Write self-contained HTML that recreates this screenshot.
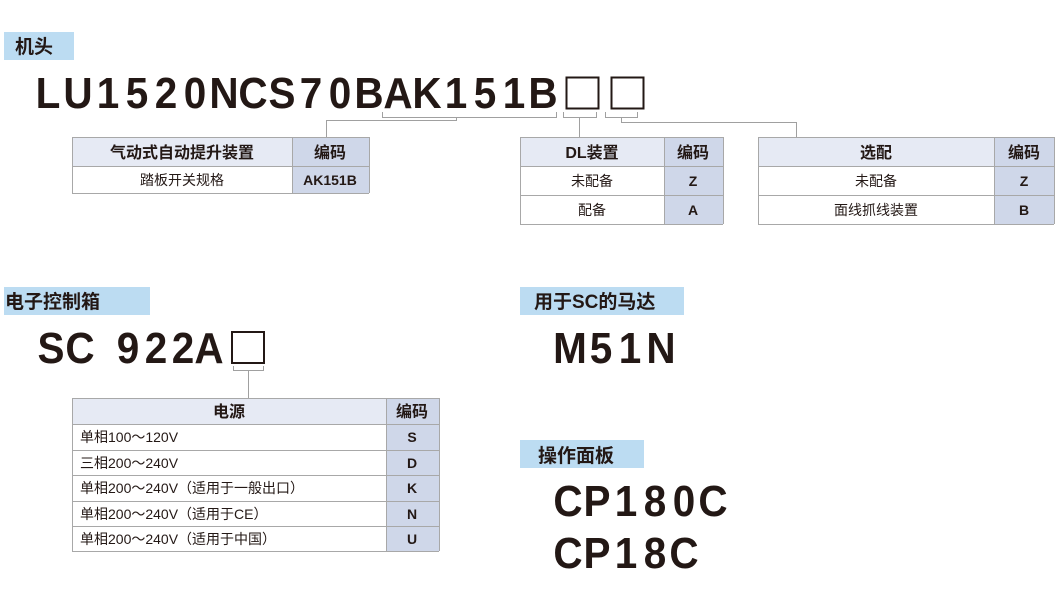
<!DOCTYPE html>
<html><head><meta charset="utf-8"><style>
html,body{margin:0;padding:0;background:#fff}
svg{display:block}
.big{font-family:"Liberation Sans",sans-serif;font-weight:bold;font-size:44px;fill:#231815}
.lab{font-family:"Liberation Sans","Noto Sans CJK SC",sans-serif;font-weight:bold;font-size:19px;fill:#231815}
.h{font-family:"Liberation Sans","Noto Sans CJK SC",sans-serif;font-weight:bold;font-size:16px;fill:#231815}
.t{font-family:"Liberation Sans","Noto Sans CJK SC",sans-serif;font-size:14px;fill:#231815}
.c{font-family:"Liberation Sans","Noto Sans CJK SC",sans-serif;font-weight:bold;font-size:14px;fill:#231815}
.ln{stroke:#a0a0a0;stroke-width:1;fill:none}
.bd{stroke:#a8a8a8;stroke-width:1}
</style></head><body>
<svg width="1060" height="611" viewBox="0 0 1060 611" xmlns="http://www.w3.org/2000/svg">
<rect x="4" y="32" width="70" height="28" fill="#bcdcf2"/>
<text class="lab" x="15" y="53">机头</text>
<rect x="4" y="287" width="146" height="28" fill="#bcdcf2"/>
<text class="lab" x="5" y="308">电子控制箱</text>
<rect x="520" y="287" width="164" height="28" fill="#bcdcf2"/>
<text class="lab" x="534" y="308">用于SC的马达</text>
<rect x="520" y="440" width="124" height="28" fill="#bcdcf2"/>
<text class="lab" x="538" y="462">操作面板</text>

<g class="big" text-anchor="middle">
<text transform="translate(48,108) scale(.92,1)">L</text>
<text transform="translate(78,108) scale(.92,1)">U</text>
<text transform="translate(108,108) scale(.92,1)">1</text>
<text transform="translate(137,108) scale(.92,1)">5</text>
<text transform="translate(166,108) scale(.92,1)">2</text>
<text transform="translate(195,108) scale(.92,1)">0</text>
<text transform="translate(224,108) scale(.92,1)">N</text>
<text transform="translate(253,108) scale(.92,1)">C</text>
<text transform="translate(282,108) scale(.92,1)">S</text>
<text transform="translate(311,108) scale(.92,1)">7</text>
<text transform="translate(340,108) scale(.92,1)">0</text>
<text transform="translate(369,108) scale(.92,1)">B</text>
<text transform="translate(398,108) scale(.92,1)">A</text>
<text transform="translate(427,108) scale(.92,1)">K</text>
<text transform="translate(456,108) scale(.92,1)">1</text>
<text transform="translate(485,108) scale(.92,1)">5</text>
<text transform="translate(514,108) scale(.92,1)">1</text>
<text transform="translate(543,108) scale(.92,1)">B</text>

<text transform="translate(51,363) scale(.92,1)">S</text>
<text transform="translate(80,363) scale(.92,1)">C</text>
<text transform="translate(128,363) scale(.92,1)">9</text>
<text transform="translate(156,363) scale(.92,1)">2</text>
<text transform="translate(183,363) scale(.92,1)">2</text>
<text transform="translate(209,363) scale(.92,1)">A</text>

<text transform="translate(570,363) scale(.92,1)">M</text>
<text transform="translate(601,363) scale(.92,1)">5</text>
<text transform="translate(630,363) scale(.92,1)">1</text>
<text transform="translate(661,363) scale(.92,1)">N</text>

<text transform="translate(568,516) scale(.92,1)">C</text>
<text transform="translate(597,516) scale(.92,1)">P</text>
<text transform="translate(626,516) scale(.92,1)">1</text>
<text transform="translate(655,516) scale(.92,1)">8</text>
<text transform="translate(684,516) scale(.92,1)">0</text>
<text transform="translate(713,516) scale(.92,1)">C</text>

<text transform="translate(568,568) scale(.92,1)">C</text>
<text transform="translate(597,568) scale(.92,1)">P</text>
<text transform="translate(626,568) scale(.92,1)">1</text>
<text transform="translate(655,568) scale(.92,1)">8</text>
<text transform="translate(684,568) scale(.92,1)">C</text>
</g>
<rect x="566.5" y="77.5" width="32" height="31" fill="none" stroke="#231815" stroke-width="2"/>
<rect x="611.5" y="77.5" width="32" height="31" fill="none" stroke="#231815" stroke-width="2"/>
<rect x="232" y="332" width="32" height="31" fill="none" stroke="#231815" stroke-width="2"/>

<path class="ln" d="M382.5 112V117.5H556.5V112"/>
<path class="ln" d="M456.5 117.5V120.5H326.5V137"/>
<path class="ln" d="M563.5 112V117.5H596.5V112"/>
<path class="ln" d="M579.5 117.5V137"/>
<path class="ln" d="M605.5 112V117.5H637.5V112"/>
<path class="ln" d="M621.5 117.5V122.5H796.5V137"/>
<path class="ln" d="M233.5 366V370.5H263.5V366"/>
<path class="ln" d="M248.5 370.5V398"/>

<rect x="72" y="137" width="220" height="29" fill="#e6eaf4"/>
<rect x="292" y="137" width="77" height="56" fill="#cfd7e9"/>
<g class="bd"><line x1="72" y1="137.5" x2="369" y2="137.5"/><line x1="72" y1="166.5" x2="369" y2="166.5"/><line x1="72" y1="193.5" x2="369" y2="193.5"/><line x1="72.5" y1="137" x2="72.5" y2="193"/><line x1="292.5" y1="137" x2="292.5" y2="193"/><line x1="369.5" y1="137" x2="369.5" y2="193"/></g>
<text class="h" x="182" y="158" text-anchor="middle">气动式自动提升装置</text>
<text class="h" x="330" y="158" text-anchor="middle">编码</text>
<text class="t" x="182" y="185" text-anchor="middle">踏板开关规格</text>
<text class="c" x="330" y="185" text-anchor="middle">AK151B</text>

<rect x="520" y="137" width="144" height="29" fill="#e6eaf4"/>
<rect x="664" y="137" width="59" height="87" fill="#cfd7e9"/>
<g class="bd"><line x1="520" y1="137.5" x2="723" y2="137.5"/><line x1="520" y1="166.5" x2="723" y2="166.5"/><line x1="520" y1="195.5" x2="723" y2="195.5"/><line x1="520" y1="224.5" x2="723" y2="224.5"/><line x1="520.5" y1="137" x2="520.5" y2="224"/><line x1="664.5" y1="137" x2="664.5" y2="224"/><line x1="723.5" y1="137" x2="723.5" y2="224"/></g>
<text class="h" x="592" y="158" text-anchor="middle">DL装置</text>
<text class="h" x="693" y="158" text-anchor="middle">编码</text>
<text class="t" x="592" y="186" text-anchor="middle">未配备</text>
<text class="c" x="693" y="186" text-anchor="middle">Z</text>
<text class="t" x="592" y="215" text-anchor="middle">配备</text>
<text class="c" x="693" y="215" text-anchor="middle">A</text>

<rect x="758" y="137" width="236" height="29" fill="#e6eaf4"/>
<rect x="994" y="137" width="60" height="87" fill="#cfd7e9"/>
<g class="bd"><line x1="758" y1="137.5" x2="1054" y2="137.5"/><line x1="758" y1="166.5" x2="1054" y2="166.5"/><line x1="758" y1="195.5" x2="1054" y2="195.5"/><line x1="758" y1="224.5" x2="1054" y2="224.5"/><line x1="758.5" y1="137" x2="758.5" y2="224"/><line x1="994.5" y1="137" x2="994.5" y2="224"/><line x1="1054.5" y1="137" x2="1054.5" y2="224"/></g>
<text class="h" x="876" y="158" text-anchor="middle">选配</text>
<text class="h" x="1024" y="158" text-anchor="middle">编码</text>
<text class="t" x="876" y="186" text-anchor="middle">未配备</text>
<text class="c" x="1024" y="186" text-anchor="middle">Z</text>
<text class="t" x="876" y="215" text-anchor="middle">面线抓线装置</text>
<text class="c" x="1024" y="215" text-anchor="middle">B</text>

<rect x="72" y="398" width="314" height="26" fill="#e6eaf4"/>
<rect x="386" y="398" width="53" height="153" fill="#cfd7e9"/>
<g class="bd"><line x1="72" y1="398.5" x2="439" y2="398.5"/><line x1="72" y1="424.5" x2="439" y2="424.5"/><line x1="72" y1="450.5" x2="439" y2="450.5"/><line x1="72" y1="475.5" x2="439" y2="475.5"/><line x1="72" y1="501.5" x2="439" y2="501.5"/><line x1="72" y1="526.5" x2="439" y2="526.5"/><line x1="72" y1="551.5" x2="439" y2="551.5"/><line x1="72.5" y1="398" x2="72.5" y2="551"/><line x1="386.5" y1="398" x2="386.5" y2="551"/><line x1="439.5" y1="398" x2="439.5" y2="551"/></g>
<text class="h" x="229" y="417" text-anchor="middle">电源</text>
<text class="h" x="412" y="417" text-anchor="middle">编码</text>
<text class="t" x="80" y="442">单相100～120V</text><text class="c" x="412" y="442" text-anchor="middle">S</text>
<text class="t" x="80" y="468">三相200～240V</text><text class="c" x="412" y="468" text-anchor="middle">D</text>
<text class="t" x="80" y="493">单相200～240V（适用于一般出口）</text><text class="c" x="412" y="493" text-anchor="middle">K</text>
<text class="t" x="80" y="519">单相200～240V（适用于CE）</text><text class="c" x="412" y="519" text-anchor="middle">N</text>
<text class="t" x="80" y="544">单相200～240V（适用于中国）</text><text class="c" x="412" y="544" text-anchor="middle">U</text>
</svg>
</body></html>
